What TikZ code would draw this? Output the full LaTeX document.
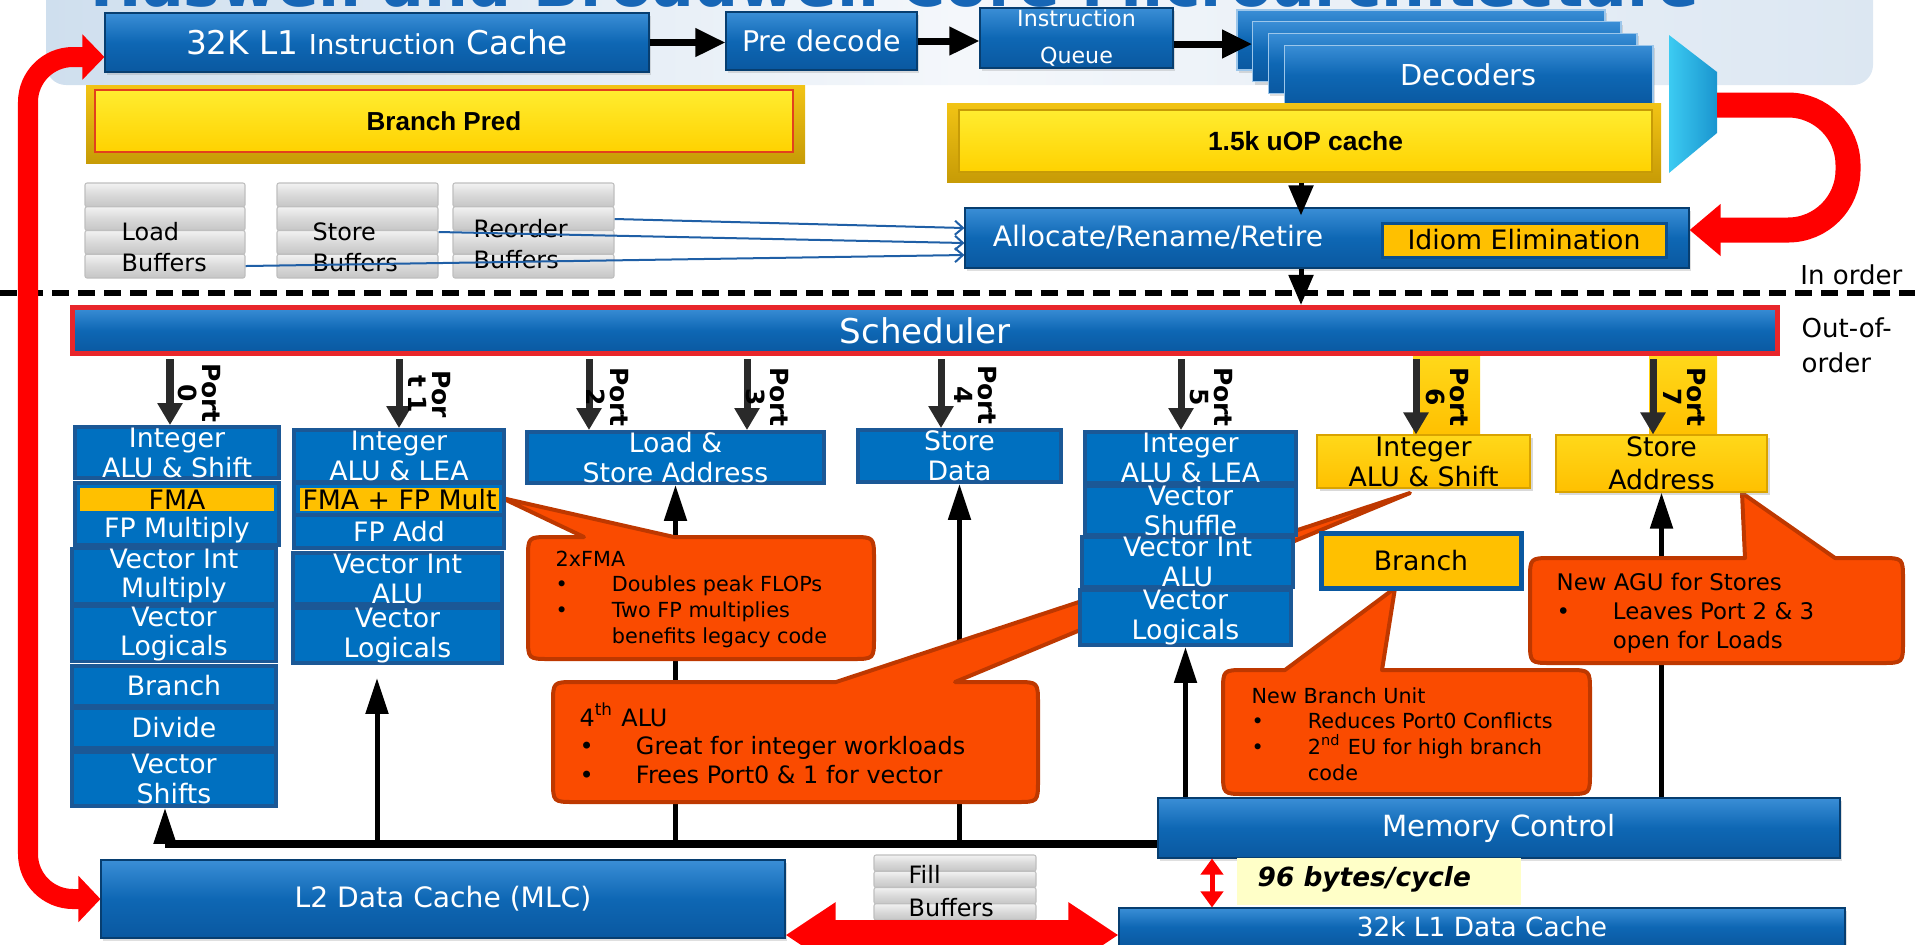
\documentclass[tikz,border=0pt]{standalone}
\usepackage{fontspec}
\setmainfont{DejaVu Sans}
\newfontfamily\arialfont{Liberation Sans}
\usepackage{xcolor}
\usepackage{tikz}
\usetikzlibrary{arrows.meta, calc, shadows}

\pgfdeclarelayer{back}
\pgfsetlayers{back,main}

% Farben
\definecolor{boxblue}{HTML}{0E67B4}
\definecolor{boxtop}{HTML}{3A8ED6}
\definecolor{boxbot}{HTML}{0A58A0}
\definecolor{unitblue}{HTML}{0070C0}
\definecolor{unitedge}{HTML}{1B5896}
\definecolor{hiyellow}{HTML}{FFC000}
\definecolor{yeltop}{HTML}{FFD81A}
\definecolor{goldtop}{HTML}{F2C415}
\definecolor{goldbot}{HTML}{C79B06}
\definecolor{predtop}{HTML}{FFEC30}
\definecolor{predbot}{HTML}{FFD200}
\definecolor{prededge}{HTML}{E2401C}
\definecolor{callfill}{HTML}{FA4B00}
\definecolor{calledge}{HTML}{BE3800}
\definecolor{pipered}{HTML}{FF0000}
\definecolor{schedred}{HTML}{E8262B}
\definecolor{muxlight}{HTML}{3CCBF2}
\definecolor{muxdark}{HTML}{1A95CF}
\definecolor{titleblue}{HTML}{1766B6}
\definecolor{bwyellow}{HTML}{FFFFC8}
\definecolor{thinblue}{HTML}{1F5FA6}
\definecolor{portgray}{HTML}{2A2A2A}
\definecolor{idedge}{HTML}{0B4F8F}
\definecolor{bannerL}{HTML}{CFDFEE}
\definecolor{bannerM}{HTML}{F4F7FB}
\definecolor{bannerR}{HTML}{DCE7F2}

\newcommand{\unitfont}{\fontsize{7.6}{8.5}\selectfont}
\newcommand{\buffont}{\fontsize{6.8}{8.8}\selectfont}
\newcommand{\portfont}{\fontsize{7.1}{6.8}\selectfont\bfseries}
\newcommand{\bul}{\makebox[16pt][l]{\textbullet}}
\newcommand{\bulind}{\hspace*{16pt}}

\begin{document}
\begin{tikzpicture}[x=0.01cm, y=-0.01cm,
    wh/.style 2 args={minimum width=(#1)*0.01cm, minimum height=(#2)*0.01cm},
    cbox/.style={top color=boxtop, bottom color=boxbot, middle color=boxblue, draw=boxbot!70!black,
        line width=0.3pt, inner sep=0pt, text=white, font=\fontsize{8}{9}\selectfont,
        drop shadow={opacity=0.25, shadow xshift=0.02cm, shadow yshift=-0.03cm}},
    unit/.style={fill=unitblue, draw=unitedge, line width=1.1pt, inner sep=0pt, text=white, align=center, font=\unitfont},
    yunit/.style={top color=yeltop, bottom color=hiyellow, draw=hiyellow!85!black, line width=0.3pt, inner sep=0pt,
        align=center, font=\unitfont, drop shadow={opacity=0.3, shadow xshift=0.03cm, shadow yshift=-0.03cm}},
    hibox/.style={fill=hiyellow, inner sep=0pt, font=\unitfont},
    goldbox/.style={top color=goldtop, bottom color=goldbot, inner sep=0pt},
    bufbar/.style={top color=gray!10, bottom color=gray!45, middle color=gray!30, draw=gray!50, line width=0.3pt, rounded corners=0.02cm},
    buftext/.style={align=left, inner sep=0pt, anchor=west, font=\buffont},
    toparr/.style={line width=0.07cm, -{Triangle[length=0.3cm,width=0.27cm]}},
    midarr/.style={line width=0.05cm, -{Triangle[length=0.3cm,width=0.24cm]}},
    portarr/.style={draw=portgray, line width=0.07cm, shorten <=0.03cm, -{Triangle[length=0.22cm,width=0.24cm]}},
    porttext/.style={rotate=-90, align=center, inner sep=0pt, font=\portfont},
    busline/.style={line width=0.08cm},
    busarr/.style={line width=0.05cm, -{Triangle[length=0.36cm,width=0.22cm]}},
    thinarr/.style={draw=thinblue, line width=0.02cm, -{Straight Barb[length=0.08cm,width=0.14cm]}},
    redpipe/.style={draw=pipered, line join=round},
    callshape/.style={fill=callfill, draw=calledge, line width=0.04cm, line join=round},
    calltext/.style={align=left, inner sep=0pt, anchor=west},
]

    % --- 1. MAKROS ---
    % Kasten ueber zwei Ecken (Pixelkoordinaten)
    \newcommand{\blk}[6]{\node[#1, wh={(#4)-(#2)}{(#5)-(#3)}] (#6) at ({((#2)+(#4))/2},{((#3)+(#5))/2})}
    % Puffer aus vier Streifen
    \newcommand{\bufstack}[5]{
        \pgfmathsetmacro{\bh}{(#5-#3)/4}
        \foreach \k in {0,...,3}{
            \draw[bufbar] (#2,{#3+\k*\bh}) rectangle (#4,{#3+(\k+1)*\bh});
        }
        \node[inner sep=0pt, wh={#4-#2}{#5-#3}] (#1) at ({(#2+#4)/2},{(#3+#5)/2}) {};
    }
    % Sprechblase mit Spitze an der Oberkante
    \newcommand{\callout}[8]{
        \draw[callshape] (#1,#2+22) .. controls (#1,#2) .. (#1+22,#2) -- (#5,#2) -- (#7,#8) -- (#6,#2)
            -- (#3-22,#2) .. controls (#3,#2) .. (#3,#2+22) -- (#3,#4-22) .. controls (#3,#4) .. (#3-22,#4)
            -- (#1+22,#4) .. controls (#1,#4) .. (#1,#4-22) -- cycle;
    }

    \useasboundingbox (0,0) rectangle (1915,944);

    % --- 2. HINTERGRUND & TITEL ---
    \shade[left color=bannerL, right color=bannerR, middle color=bannerM, rounded corners=0.2cm] (46,-20) rectangle (1873,85);
    \node[anchor=base, inner sep=0pt, text=titleblue, font=\fontsize{17.5}{18}\selectfont\bfseries] (title) at (895,6)
        {Haswell and Broadwell Core Microarchitecture};

    % --- 3. FRONT END ---
    \blk{cbox}{105}{13}{649}{72}{l1i}
        {\fontsize{9.3}{11}\selectfont 32K L1 {\fontsize{7.8}{11}\selectfont Instruction} Cache};
    \blk{cbox, font=\fontsize{8.1}{9}\selectfont}{726}{12}{917}{70}{pd} {Pre decode};
    \blk{cbox, align=center, font=\fontsize{6.3}{10.5}\selectfont}{980}{8}{1173}{68}{iq} {Instruction\\Queue};
    \foreach \k in {0,...,3}{
        \blk{cbox, draw=boxtop!50!white}{1237+15.7*\k}{10+11.7*\k}{1605+16*\k}{70+11.7*\k}{dec\k} {};
    }
    \node[text=white, font=\fontsize{8.2}{9}\selectfont] (dect) at (dec3) {Decoders};
    \shade[left color=muxlight, right color=muxdark] (1669,35) -- (1717,72) -- (1717,133) -- (1669,173) -- cycle;
    \coordinate (muxout) at (1717,105);

    \draw[toparr] (l1i.east) -- (l1i.east -| pd.west);
    \draw[toparr] (pd.east) -- (pd.east -| iq.west);
    \coordinate (iqout) at ($(iq.east)+(0,6)$);
    \draw[toparr] (iqout) -- (iqout -| dec1.west);

    \blk{goldbox}{86}{85}{805}{163}{bpo} {};
    \blk{top color=predtop, bottom color=predbot, draw=prededge, line width=0.02cm, inner sep=0pt,
        font=\arialfont\fontsize{7.4}{9}\selectfont\bfseries}{95}{90}{793}{152}{bp} {Branch Pred};
    \blk{goldbox}{947}{103}{1661}{182}{uopo} {};
    \blk{top color=predtop, bottom color=predbot, draw=goldbot, line width=0.02cm, inner sep=0pt,
        font=\arialfont\fontsize{7.5}{9}\selectfont\bfseries}{959}{110}{1652}{172}{uop} {1.5k uOP cache};

    % --- 4. PUFFER & ALLOCATE ---
    \bufstack{lb}{85}{183}{245}{278}
    \bufstack{sb}{277}{183}{438}{278}
    \bufstack{rb}{453}{183}{614}{278}
    \node[buftext] (lbt) at (121,247.5) {Load\\Buffers};
    \node[buftext] (sbt) at (312,247.5) {Store\\Buffers};
    \node[buftext] (rbt) at (473,244) {Reorder\\Buffers};

    \blk{cbox}{965}{208}{1689}{268}{alloc} {};
    \node[text=white, font=\fontsize{8}{9}\selectfont] (allt) at (1158,237) {Allocate/Rename/Retire};
    \blk{fill=hiyellow, draw=idedge, line width=0.03cm, inner sep=0pt, font=\fontsize{7.6}{9}\selectfont}
        {1382}{223}{1666}{257}{ide} {Idiom Elimination};

    \draw[thinarr] ($(rb.east)+(0,-11.5)$) -- ($(alloc.west)+(0,-10)$);
    \draw[thinarr] ($(sb.east)+(0,1.5)$) -- ($(alloc.west)+(0,5)$);
    \draw[thinarr] ($(lb.east)+(0,35.5)$) -- ($(alloc.west)+(0,17)$);

    \coordinate (vcol) at (1301,0);
    \draw[midarr] (uopo.south -| vcol) -- ($(alloc.north -| vcol)+(0,8)$);

    % U-Bogen vom Mux zur Idiom Elimination
    \coordinate (uturn) at (1848,0);
    \coordinate (ideIn) at ($(alloc.east)+(0,-8)$);
    \draw[redpipe, line width=0.25cm, rounded corners=0.6cm, -{Triangle[length=0.31cm,width=0.5cm]}]
        (muxout) -- (muxout -| uturn) -- (ideIn -| uturn) -- (ideIn);

    % --- 5. TRENNLINIE & SCHEDULER ---
    \draw[line width=0.06cm, dash pattern=on 0.17cm off 0.09cm] (0,293) -- (1915,293);
    \node[anchor=east, inner sep=0pt, font=\fontsize{7.4}{9}\selectfont] (inord) at (1903,275) {In order};
    \node[anchor=west, align=left, inner sep=0pt, font=\fontsize{7.4}{10}\selectfont] (ooo) at (1801,345.5) {Out-of-\\order};

    \blk{top color=boxtop, bottom color=boxbot, middle color=boxblue, draw=schedred, line width=0.05cm, inner sep=0pt,
        text=white, font=\fontsize{9.7}{11}\selectfont}{72.5}{307.5}{1777.5}{353.5}{sched} {Scheduler};
    \draw[midarr] (alloc.south -| vcol) -- (sched.north -| vcol);

    \fill[top color=yeltop, bottom color=hiyellow] (1413,356) rectangle (1480,435);
    \fill[top color=yeltop, bottom color=hiyellow] (1649,356) rectangle (1717,435);

    % --- 6. AUSFUEHRUNGSEINHEITEN ---
    % Port 0
    \blk{unit}{75}{427}{279}{478}{int0} {Integer\\ALU \& Shift};
    \blk{unit}{75}{483}{279}{545}{fpm0} {};
    \blk{hibox}{80}{488}{274}{511}{fma0} {FMA};
    \node[text=white, font=\unitfont] (fpm0t) at (177,530) {FP Multiply};
    \blk{unit}{72}{550}{276}{602}{vim0} {Vector Int\\Multiply};
    \blk{unit}{72}{608}{276}{660}{vl0} {Vector\\Logicals};
    \blk{unit}{72}{666}{276}{706}{br0} {Branch};
    \blk{unit}{72}{708}{276}{748}{div0} {Divide};
    \blk{unit}{72}{752}{276}{806}{vs0} {Vector\\Shifts};
    % Port 1
    \blk{unit}{294}{430}{504}{482}{int1} {Integer\\ALU \& LEA};
    \blk{unit}{294}{483}{504}{515}{fma1o} {};
    \blk{hibox}{300}{488}{499}{511}{fma1} {FMA + FP Mult};
    \blk{unit}{294}{515}{504}{548}{fpa1} {FP Add};
    \blk{unit}{293}{553}{502}{604}{via1} {Vector Int\\ALU};
    \blk{unit}{293}{609}{502}{662}{vl1} {Vector\\Logicals};
    % Port 2, 3, 4
    \blk{unit}{527}{432}{824}{483}{ls} {Load \&\\Store Address};
    \blk{unit}{858}{430}{1061}{482}{sd} {Store\\Data};
    % Port 5
    \blk{unit}{1085}{432}{1296}{483}{int5} {Integer\\ALU \& LEA};
    \blk{unit}{1085}{487}{1296}{534}{vsh5} {Vector\\Shuffle};
    \blk{unit}{1082}{537}{1293}{587}{via5} {Vector Int\\ALU};
    \blk{unit}{1080}{592}{1291}{643}{vl5} {Vector\\Logicals};
    % Port 6, 7
    \blk{yunit}{1317}{435}{1530}{488}{int6} {Integer\\ALU \& Shift};
    \blk{fill=hiyellow, draw=boxbot, line width=0.05cm, inner sep=0pt, font=\unitfont}{1321}{533}{1521}{588}{br6} {Branch};
    \blk{yunit}{1556}{435}{1767}{492}{sa7} {Store\\[1pt]Address};

    % --- 7. PORTS ---
    \coordinate (p0) at ($(int0.north)+(-7,0)$);
    \coordinate (p1) at (int1.north);
    \coordinate (p2) at ($(ls.north)+(-86.5,0)$);
    \coordinate (p3) at ($(ls.north)+(71.5,0)$);
    \coordinate (p4) at ($(sd.north)+(-18.5,0)$);
    \coordinate (p5) at ($(int5.north)+(-9.5,0)$);
    \coordinate (p6) at ($(int6.north)+(-7.5,0)$);
    \coordinate (p7) at ($(sa7.north)+(-8.5,0)$);
    \foreach \p in {0,...,7}{
        \draw[portarr] (p\p |- sched.south) -- (p\p);
    }
    \node[porttext] (p0t) at (199,393) {Port\\0};
    \node[porttext] (p1t) at (430,394) {Por\\t 1};
    \node[porttext] (p2t) at (607.5,397) {Port\\2};
    \node[porttext] (p3t) at (767,397) {Port\\3};
    \node[porttext] (p4t) at (976,395) {Port\\4};
    \node[porttext] (p5t) at (1211.5,397) {Port\\5};
    \node[porttext] (p6t) at (1447.5,397) {Port\\6};
    \node[porttext] (p7t) at (1684.5,397) {Port\\7};

    % --- 8. SPEICHER ---
    \blk{cbox, font=\fontsize{8.3}{9}\selectfont}{1158}{798}{1840}{858}{memctl} {Memory Control};
    \blk{cbox, font=\fontsize{8}{9}\selectfont}{101}{860}{785}{938}{l2} {L2 Data Cache (MLC)};
    \blk{cbox, font=\fontsize{7.5}{9}\selectfont}{1119}{908}{1845}{946}{l1d} {32k L1 Data Cache};
    \bufstack{fb}{874}{855}{1036}{920}
    \node[buftext, font=\fontsize{6.8}{9.4}\selectfont] (fbt) at (908,891.5) {Fill\\Buffers};
    \blk{fill=bwyellow, inner sep=0pt}{1237}{858}{1521}{905}{bw} {};
    \node[anchor=west, inner sep=0pt, font=\fontsize{7.5}{9}\selectfont\bfseries\itshape] (bwt) at (1257,879) {96 bytes/cycle};

    \coordinate (fillrow) at (0,935);
    \draw[redpipe, line width=0.3cm, {Triangle[length=0.5cm,width=0.62cm]}-{Triangle[length=0.5cm,width=0.62cm]}]
        (l2.east |- fillrow) -- (l1d.west |- fillrow);
    \coordinate (bwx) at (1212,0);
    \draw[redpipe, line width=0.05cm, {Triangle[length=0.16cm,width=0.22cm]}-{Triangle[length=0.16cm,width=0.22cm]}]
        (memctl.south -| bwx) -- (l1d.north -| bwx);

    % grosse Schleife L2 -> L1I
    \coordinate (loopx) at (28,0);
    \coordinate (l1iin) at ($(l1i.west)+(0,14.5)$);
    \draw[redpipe, line width=0.2cm, rounded corners=0.45cm,
        {Triangle[length=0.22cm,width=0.45cm]}-{Triangle[length=0.22cm,width=0.44cm]}]
        (l2.west) -- (l2.west -| loopx) -- (l1iin -| loopx) -- (l1iin);

    % --- 9. BUS & SPRECHBLASEN (hinten) ---
    \begin{pgfonlayer}{back}
        \coordinate (busL) at (165,844);
        \coordinate (b1) at (377,844);
        \draw[busline] (memctl.west |- busL) -- (busL);
        \draw[busarr] (busL) -- (busL |- vs0.south);
        \draw[busarr] (b1) -- ($(b1 |- vl1.south)+(0,13)$);
        \draw[busarr] (ls.south |- busL) -- (ls.south);
        \draw[busarr] (sd.south |- busL) -- (sd.south);
        \draw[busarr] (memctl.north -| vl5.south) -- (vl5.south);
        \draw[busarr] (memctl.north -| sa7.south) -- (sa7.south);

        \callout{528}{537}{874}{659}{584}{674}{502}{498}
        \callout{553}{682}{1038}{802}{836}{955}{1410}{493}
        \callout{1223}{670}{1590}{794}{1285}{1382}{1395}{588}
        \callout{1530}{558}{1903}{663}{1745}{1835}{1742}{493}

        \node[calltext, font=\fontsize{5.9}{7.3}\selectfont] (c1t) at (555,599)
            {2xFMA\\\bul Doubles peak FLOPs\\\bul Two FP multiplies\\\bulind benefits legacy code};
        \node[calltext, font=\fontsize{6.8}{8.1}\selectfont] (c2t) at (579,743)
            {4\textsuperscript{th} ALU\\\bul Great for integer workloads\\\bul Frees Port0 \& 1 for vector};
        \node[calltext, font=\fontsize{5.9}{7.3}\selectfont] (c3t) at (1251,734)
            {New Branch Unit\\\bul Reduces Port0 Conflicts\\\bul 2\textsuperscript{nd} EU for high branch\\\bulind code};
        \node[calltext, font=\fontsize{6.5}{8.3}\selectfont] (c4t) at (1556,613)
            {New AGU for Stores\\\bul Leaves Port 2 \& 3\\\bulind open for Loads};
    \end{pgfonlayer}

\end{tikzpicture}
\end{document}
